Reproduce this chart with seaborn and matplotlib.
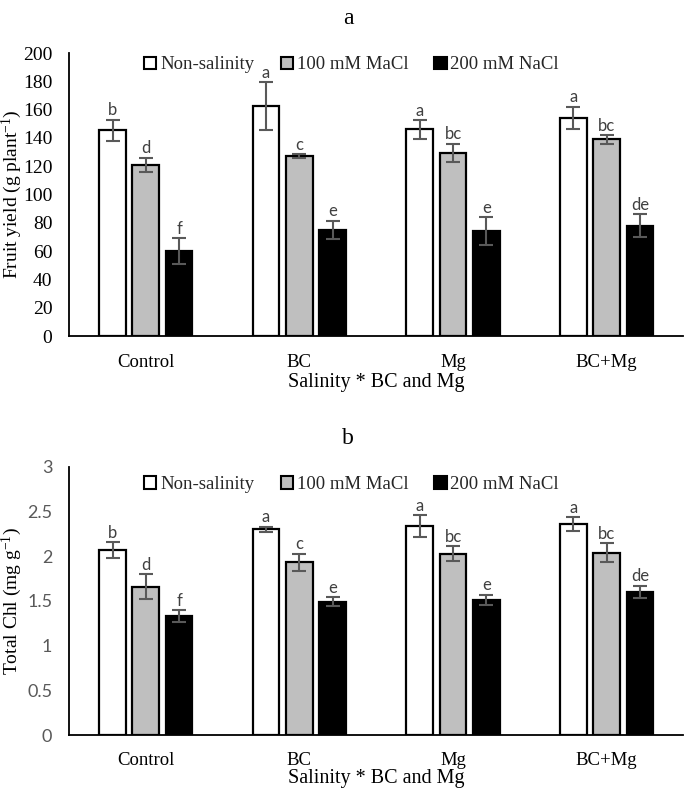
import matplotlib
matplotlib.use("Agg")
import matplotlib.pyplot as plt
import seaborn as sns
import pandas as pd
from matplotlib.patches import Patch

groups = ["Control", "BC", "Mg", "BC+Mg"]
treatments = ["Non-salinity", "100 mM MaCl", "200 mM NaCl"]

yield_ns = [145.5, 162.5, 146.0, 154.0]
yield_100 = [121.0, 127.0, 129.5, 139.0]
yield_200 = [60.0, 75.0, 74.0, 78.0]
yield_err_ns = [7.5, 17.0, 6.5, 8.0]
yield_err_100 = [5.0, 1.5, 6.5, 3.0]
yield_err_200 = [9.0, 6.5, 10.0, 8.0]
yield_letters_ns = ["b", "a", "a", "a"]
yield_letters_100 = ["d", "c", "bc", "bc"]
yield_letters_200 = ["f", "e", "e", "de"]

chl_ns = [2.07, 2.30, 2.34, 2.36]
chl_100 = [1.66, 1.93, 2.03, 2.04]
chl_200 = [1.33, 1.49, 1.51, 1.60]
chl_err_ns = [0.085, 0.03, 0.12, 0.075]
chl_err_100 = [0.14, 0.10, 0.085, 0.105]
chl_err_200 = [0.07, 0.05, 0.06, 0.07]
chl_letters_ns = ["b", "a", "a", "a"]
chl_letters_100 = ["d", "c", "bc", "bc"]
chl_letters_200 = ["f", "e", "e", "de"]

colors = ["white", "#bfbfbf", "black"]
serif = "Liberation Serif"
sans = "Lato"


def make_df(a, b, c):
    rows = []
    for vals, t in zip([a, b, c], treatments):
        for g, v in zip(groups, vals):
            rows.append({"group": g, "treatment": t, "value": v})
    return pd.DataFrame(rows)


sns.set_theme(style="white")
plt.rcParams["font.family"] = [serif, "DejaVu Sans"]
plt.rcParams["mathtext.fontset"] = "custom"
plt.rcParams["mathtext.rm"] = serif
plt.rcParams["mathtext.it"] = serif + ":italic"
plt.rcParams["mathtext.default"] = "rm"

fig = plt.figure(figsize=(6.85, 7.89), dpi=100)
ax1 = fig.add_axes([0.1007, 0.5741, 0.897, 0.3587])
ax2 = fig.add_axes([0.1007, 0.0684, 0.897, 0.3400])


def draw(ax, vals, errs, letters, ylim, yticks, ytlabels, ylabel, title, title_y,
         tickfont, tickcolor, ticksize, letter_off, leg_y, xtickpad, xlabelpad):
    df = make_df(*vals)
    sns.barplot(data=df, x="group", y="value", hue="treatment", palette=colors,
                edgecolor="black", linewidth=1.6, width=0.65, gap=0.2,
                errorbar=None, ax=ax, legend=False, saturation=1)
    for cont, err, lets in zip(ax.containers, errs, letters):
        xs = [p.get_x() + p.get_width() / 2 for p in cont.patches]
        hs = [p.get_height() for p in cont.patches]
        ax.errorbar(xs, hs, yerr=err, fmt="none", ecolor="#595959",
                    elinewidth=1.5, capsize=5, capthick=1.5, zorder=5)
        for x, h, e, l in zip(xs, hs, err, lets):
            ax.text(x, h + e + letter_off, l, ha="center", va="bottom",
                    fontsize=12, color="#404040", family=sans)
    ax.set_xlim(-0.5, 3.5)
    ax.set_ylim(*ylim)
    ax.set_yticks(yticks)
    ax.set_yticklabels(ytlabels, fontsize=ticksize, family=tickfont, color=tickcolor)
    ax.set_xticks(range(4))
    ax.set_xticklabels(groups, fontsize=13.5, family=serif, color="black")
    ax.tick_params(axis="y", length=0, pad=12)
    ax.tick_params(axis="x", length=0, pad=xtickpad)
    ax.set_xlabel("Salinity * BC and Mg", fontsize=14.5, family=serif,
                  labelpad=xlabelpad, color="black")
    ax.set_ylabel(ylabel, fontsize=14, family=serif, color="black")
    ax.yaxis.set_label_coords(-0.074, 0.5)
    for s in ["top", "right"]:
        ax.spines[s].set_visible(False)
    for s in ["left", "bottom"]:
        ax.spines[s].set_color("black")
        ax.spines[s].set_linewidth(1.3)
    handles = [Patch(facecolor=c, edgecolor="black", linewidth=1.5) for c in colors]
    ax.legend(handles, treatments, ncol=3, loc="center",
              bbox_to_anchor=(0.46, leg_y), frameon=False,
              handlelength=0.65, handleheight=0.65, handletextpad=0.2,
              columnspacing=1.4, prop={"family": serif, "size": 13.5},
              borderaxespad=0, borderpad=0)
    fig.text(0.508, title_y, title, fontsize=17, family=serif, ha="center",
             va="center", color="black")


draw(ax1, [yield_ns, yield_100, yield_200],
     [yield_err_ns, yield_err_100, yield_err_200],
     [yield_letters_ns, yield_letters_100, yield_letters_200],
     (0, 200), list(range(0, 201, 20)), [str(v) for v in range(0, 201, 20)],
     "Fruit yield (g plant$^{-1}$)", "a", 1 - 19 / 789, serif, "black", 14,
     1.0, 0.958, 13, 1.5)

chl_ticks = [0, 0.5, 1, 1.5, 2, 2.5, 3]
draw(ax2, [chl_ns, chl_100, chl_200],
     [chl_err_ns, chl_err_100, chl_err_200],
     [chl_letters_ns, chl_letters_100, chl_letters_200],
     (0, 3), chl_ticks, ["0", "0.5", "1", "1.5", "2", "2.5", "3"],
     "Total Chl (mg g$^{-1}$)", "b", 1 - 438 / 789, sans, "#595959", 13,
     0.015, 0.933, 12, 0)

fig.savefig("out.png", dpi=100)
